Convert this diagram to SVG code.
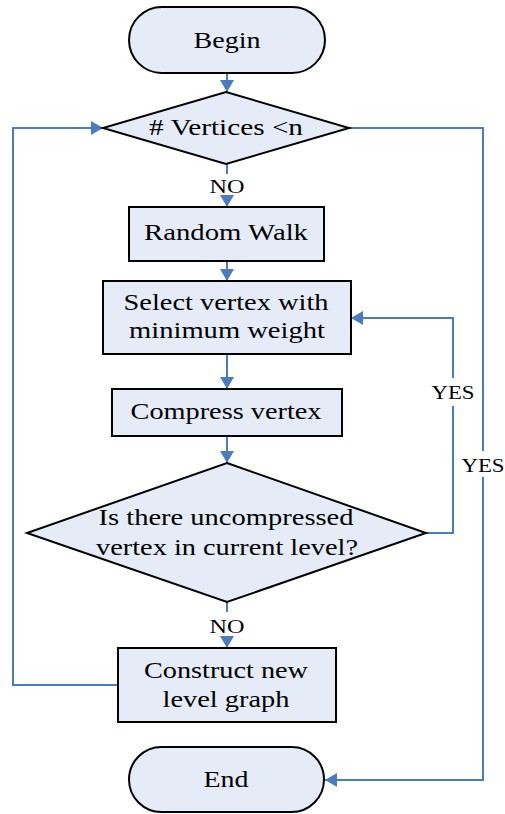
<svg xmlns="http://www.w3.org/2000/svg" width="505" height="814" viewBox="0 0 505 814">
<style>
.n{fill:#E6ECF7;stroke:#000;stroke-width:2}
.t{font-family:'Liberation Serif',Tinos,FreeSerif,'Nimbus Roman','Nimbus Roman No9 L',Times,'DejaVu Serif',serif;font-size:24px;fill:#000;text-anchor:middle}
.l{font-family:'Liberation Serif',Tinos,FreeSerif,'Nimbus Roman','Nimbus Roman No9 L',Times,'DejaVu Serif',serif;font-size:19px;fill:#000;text-anchor:middle}
.c{fill:none;stroke:#4A7CC4;stroke-width:2}
</style>
<defs>
<marker id="a" markerWidth="12" markerHeight="14" refX="12" refY="7" orient="auto" markerUnits="userSpaceOnUse" viewBox="0 0 12 14">
<path d="M0,0 L12,7 L0,14 Z" fill="#4A7CC4"/>
</marker>
</defs>
<rect width="505" height="814" fill="#fff"/>
<g id="connectors">
<path class="c" d="M227,73 V92" marker-end="url(#a)"/>
<path class="c" d="M227,164 V174"/>
<path class="c" d="M227,198 V207" marker-end="url(#a)"/>
<path class="c" d="M227,261 V281" marker-end="url(#a)"/>
<path class="c" d="M227,354 V389" marker-end="url(#a)"/>
<path class="c" d="M227,436 V463" marker-end="url(#a)"/>
<path class="c" d="M227,602 V612"/>
<path class="c" d="M227,638 V648" marker-end="url(#a)"/>
<path class="c" d="M118,685 H13 V128 H103" marker-end="url(#a)"/>
<path class="c" d="M349,128 H483 V451"/>
<path class="c" d="M483,477 V780 H325" marker-end="url(#a)"/>
<path class="c" d="M426,533 H453 V406"/>
<path class="c" d="M453,378 V318 H351" marker-end="url(#a)"/>
<text class="l" x="227" y="193" textLength="35" lengthAdjust="spacingAndGlyphs">NO</text>
<text class="l" x="227" y="633" textLength="35" lengthAdjust="spacingAndGlyphs">NO</text>
<text class="l" x="453" y="399" textLength="43" lengthAdjust="spacingAndGlyphs">YES</text>
<text class="l" x="483" y="472" textLength="43" lengthAdjust="spacingAndGlyphs">YES</text>
</g>
<g id="begin">
<rect class="n" x="129" y="7" width="196" height="66" rx="33"/>
<text class="t" x="227" y="48" textLength="67" lengthAdjust="spacingAndGlyphs">Begin</text>
</g>
<g id="vertices">
<polygon class="n" points="226,92 349,128 226,164 103,128"/>
<text class="t" x="226" y="135" textLength="154" lengthAdjust="spacingAndGlyphs"># Vertices &lt;n</text>
</g>
<g id="randomwalk">
<rect class="n" x="129" y="207" width="195" height="54"/>
<text class="t" x="226" y="240" textLength="164" lengthAdjust="spacingAndGlyphs">Random Walk</text>
</g>
<g id="select">
<rect class="n" x="103" y="281" width="248" height="73"/>
<text class="t" x="226" y="310" textLength="205" lengthAdjust="spacingAndGlyphs">Select vertex with</text>
<text class="t" x="227" y="338" textLength="196" lengthAdjust="spacingAndGlyphs">minimum weight</text>
</g>
<g id="compress">
<rect class="n" x="112" y="389" width="230" height="47"/>
<text class="t" x="226" y="419" textLength="191" lengthAdjust="spacingAndGlyphs">Compress vertex</text>
</g>
<g id="uncompressed">
<polygon class="n" points="227,463 426,533 227,602 27,533"/>
<text class="t" x="226" y="525" textLength="255" lengthAdjust="spacingAndGlyphs">Is there uncompressed</text>
<text class="t" x="227" y="555" textLength="262" lengthAdjust="spacingAndGlyphs">vertex in current level?</text>
</g>
<g id="construct">
<rect class="n" x="118" y="648" width="218" height="74"/>
<text class="t" x="226" y="678" textLength="164" lengthAdjust="spacingAndGlyphs">Construct new</text>
<text class="t" x="226" y="707" textLength="127" lengthAdjust="spacingAndGlyphs">level graph</text>
</g>
<g id="end">
<rect class="n" x="129" y="747" width="195" height="65" rx="32.5"/>
<text class="t" x="226" y="787" textLength="45" lengthAdjust="spacingAndGlyphs">End</text>
</g>
</svg>
